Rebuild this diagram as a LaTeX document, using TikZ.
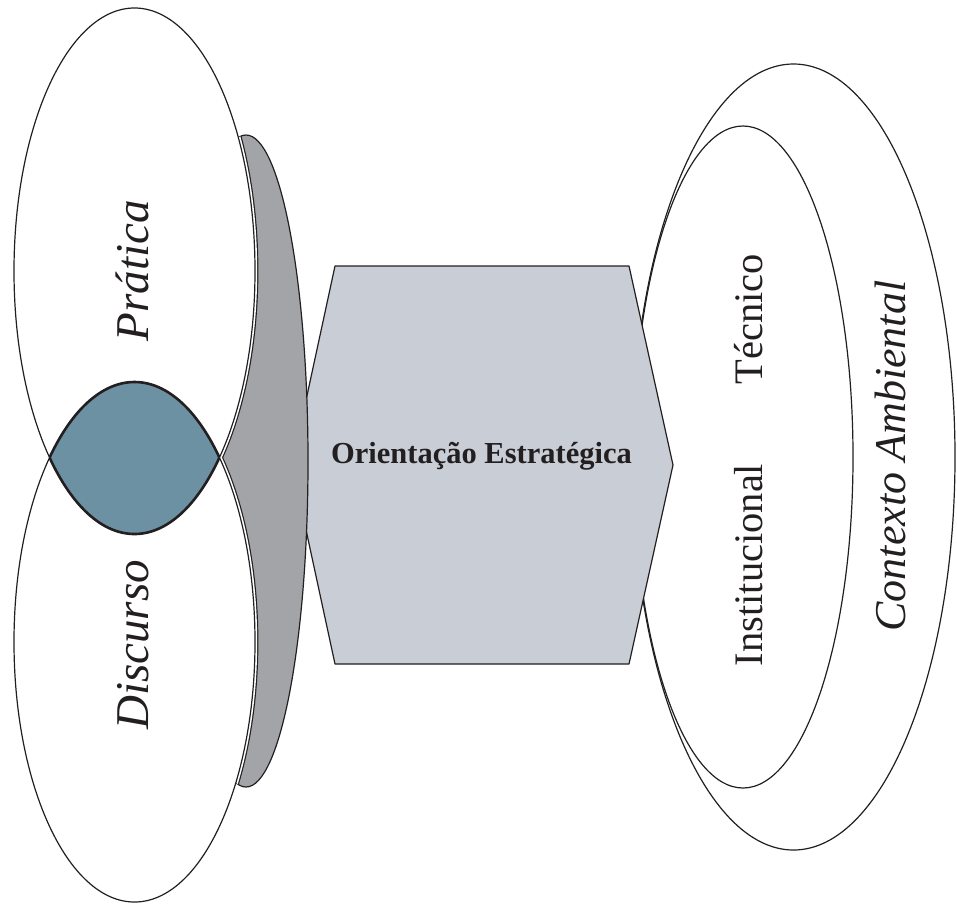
\documentclass[tikz,border=0pt]{standalone}
\usepackage{fontspec}
\setmainfont{Liberation Serif}
\definecolor{lensblue}{RGB}{108,145,163}
\definecolor{bandgray}{RGB}{163,164,168}
\definecolor{hexfill}{RGB}{201,205,214}
\definecolor{ink}{RGB}{35,31,32}
\tikzset{
  outline/.style={draw=ink, line width=1.2pt},
  ellPr/.style={x radius=120.5pt, y radius=263pt},
  ellDi/.style={x radius=120.5pt, y radius=260pt},
  ellCo/.style={x radius=161.5pt, y radius=393pt},
  ellIn/.style={x radius=110pt, y radius=331pt},
  ellBand/.style={x radius=62pt, y radius=326pt},
  bigital/.style={font=\fontsize{47}{50}\selectfont\itshape, text=ink, inner sep=0pt},
  uprlabel/.style={font=\fontsize{40.5}{44}\selectfont, text=ink, inner sep=0pt},
}
\begin{document}
\begin{tikzpicture}[x=1pt, y=-1pt, line join=round]
\useasboundingbox (0,0) rectangle (957,903);

% centres of the shapes
\coordinate (cPr) at (134.5,271);
\coordinate (cDi) at (134.5,642);
\coordinate (cCo) at (793.5,457);
\coordinate (cIn) at (743,457);
\coordinate (cBand) at (246,461);

% environment: outer and inner ellipses
\path[fill=white, outline] (cCo) ellipse [ellCo];
\path[fill=white, outline] (cIn) ellipse [ellIn];

% strategic orientation hexagon
\path[fill=hexfill, outline]
  (335,266) -- (629,266) -- (673,465) -- (629,664) -- (335,664) -- (292,465) -- cycle;

% grey band behind practice and discourse
\path[fill=bandgray, outline] (cBand) ellipse [ellBand];

% thin halo around the two ellipses where they lie on the band
\begin{scope}
  \clip (cBand) ellipse [ellBand];
  \draw[ink, line width=6.8pt] (cPr) ellipse [ellPr];
  \draw[ink, line width=6.8pt] (cDi) ellipse [ellDi];
  \draw[white, line width=4.4pt] (cPr) ellipse [ellPr];
  \draw[white, line width=4.4pt] (cDi) ellipse [ellDi];
\end{scope}

% practice and discourse
\fill[white] (cPr) ellipse [ellPr];
\fill[white] (cDi) ellipse [ellDi];
\begin{scope}
  \clip (cPr) ellipse [ellPr];
  \fill[lensblue] (cDi) ellipse [ellDi];
\end{scope}
\draw[outline] (cPr) ellipse [ellPr];
\draw[outline] (cDi) ellipse [ellDi];
% slightly heavier border of the overlap
\begin{scope}
  \clip (cPr) ellipse [ellPr];
  \draw[ink, line width=2.6pt] (cDi) ellipse [ellDi];
\end{scope}
\begin{scope}
  \clip (cDi) ellipse [ellDi];
  \draw[ink, line width=2.6pt] (cPr) ellipse [ellPr];
\end{scope}

% labels
\node[bigital, rotate=90, anchor=base] (pratica) at (148,271) {Prática};
\node[bigital, rotate=90, anchor=base] (discurso) at (148,645) {Discurso};
\node[font=\fontsize{30.5}{34}\selectfont\bfseries, text=ink, inner sep=0pt, anchor=base]
  (orient) at (481.5,463) {Orientação Estratégica};
\node[uprlabel, rotate=90, anchor=base] (tecnico) at (762,319) {Técnico};
\node[uprlabel, rotate=90, anchor=base] (instit) at (762,565) {Institucional};
\node[font=\fontsize{44}{48}\selectfont\itshape, text=ink, inner sep=0pt, rotate=90, anchor=base]
  (contexto) at (905,456) {Contexto Ambiental};
\end{tikzpicture}
\end{document}
